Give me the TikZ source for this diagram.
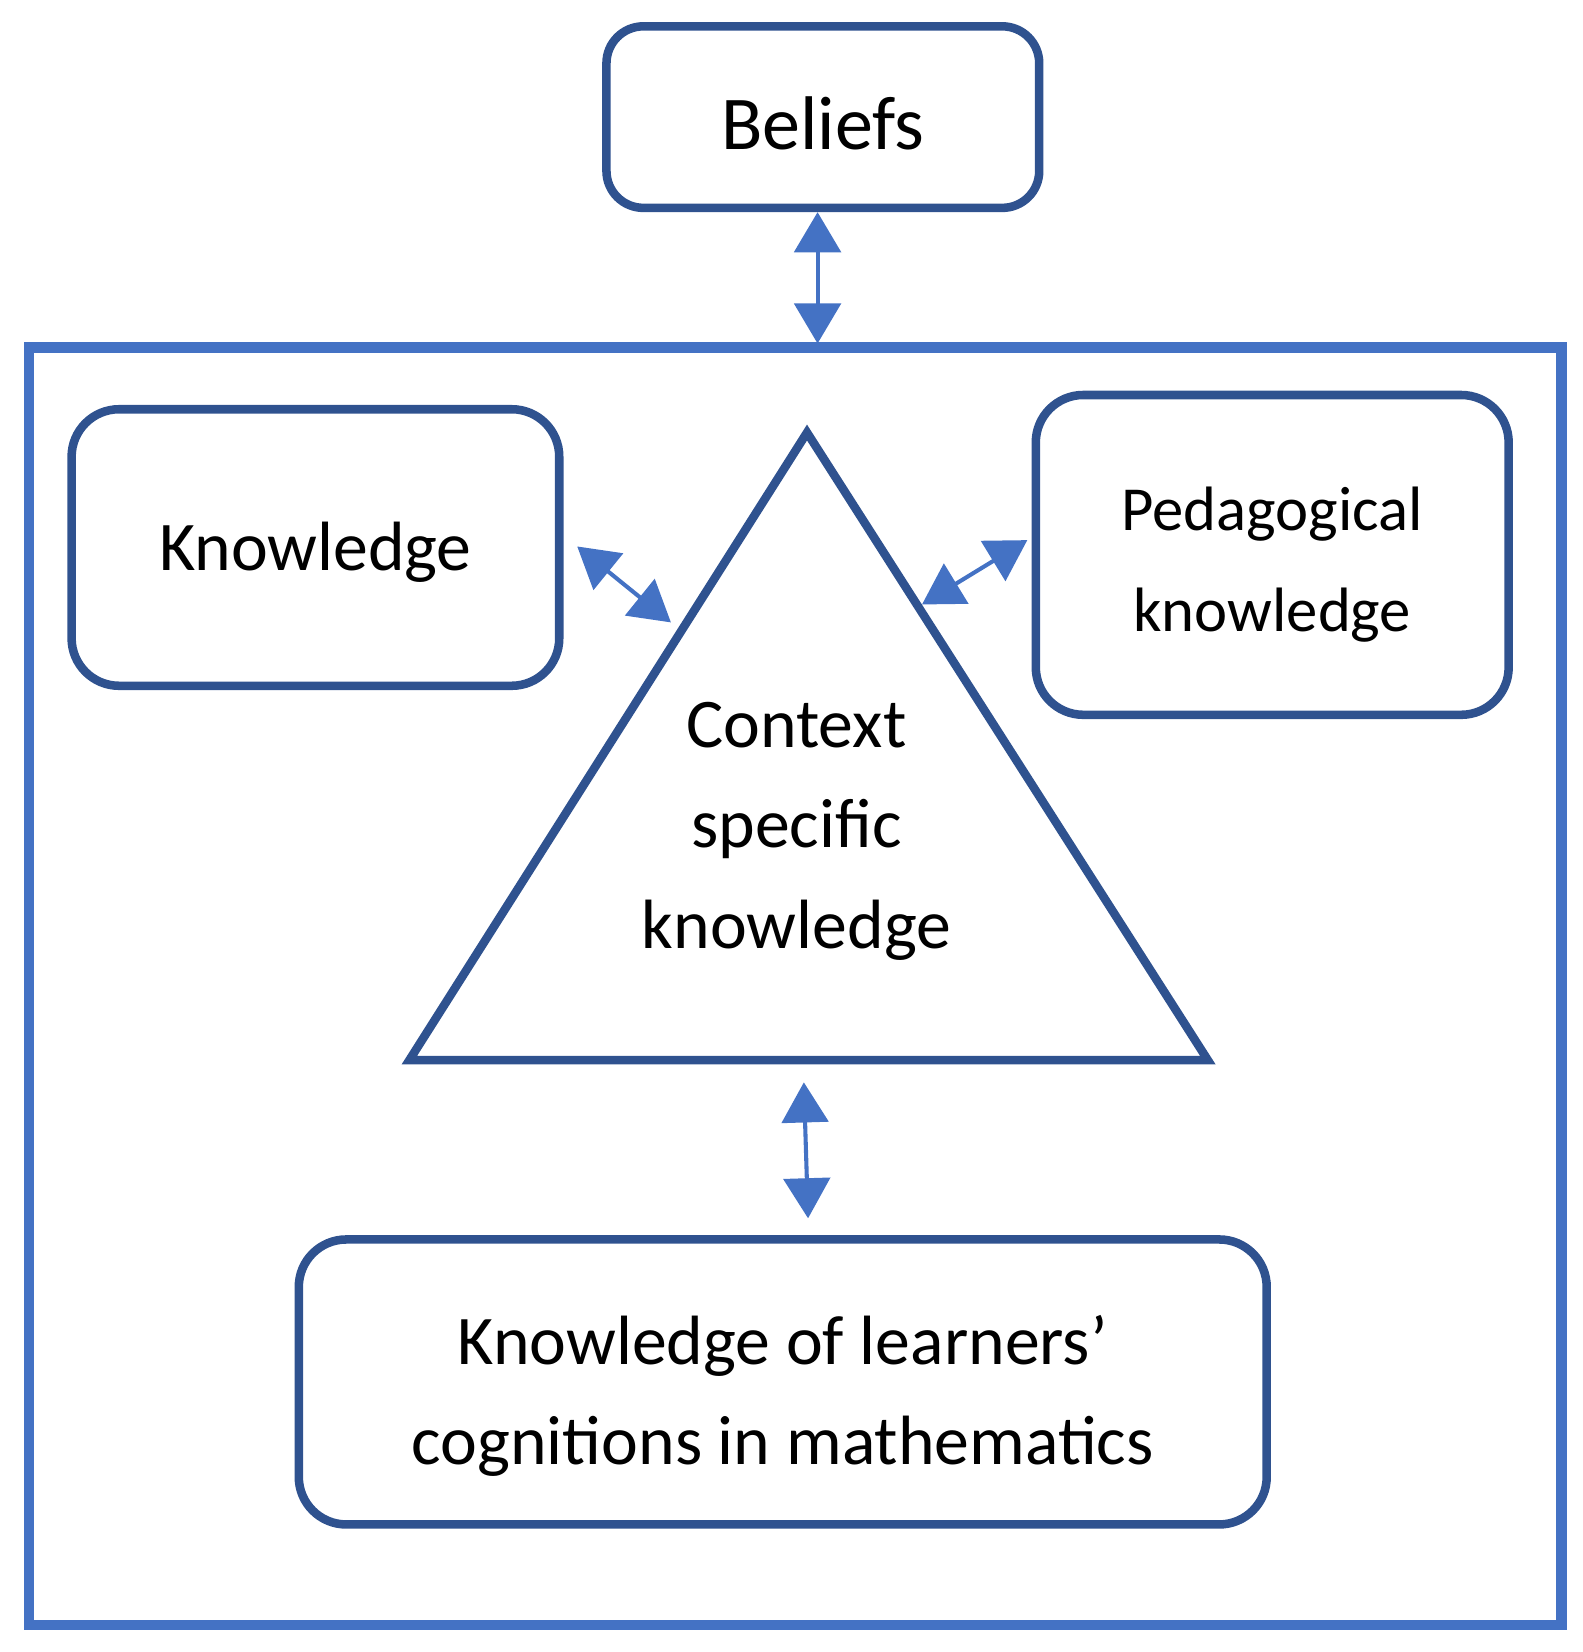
\documentclass[tikz,border=0pt]{standalone}
\usepackage{fontspec}
\setmainfont{Carlito}
\usetikzlibrary{arrows.meta}

\definecolor{boxblue}{HTML}{2F528F}
\definecolor{arrowblue}{HTML}{4472C4}

\newcommand{\downby}[2]{\raisebox{-#1}[\height][\depth]{#2}}

\tikzset{
  rbox/.style={draw=boxblue,line width=2.3pt,rounded corners=0.45cm,align=center,
               font=\fontsize{18.8}{27}\selectfont},
  dblarrow/.style={{Triangle[length=0.38cm,width=0.44cm]}-{Triangle[length=0.38cm,width=0.44cm]},
               draw=arrowblue,fill=arrowblue,line width=1.1pt},
}

\begin{document}
\begin{tikzpicture}[x=0.01cm,y=-0.01cm]
        \useasboundingbox (0,0) rectangle (1500,1566);
        \node (Frame)       at (754,935)  [draw=arrowblue,line width=2.85pt,minimum width=14.52cm,minimum height=12.10cm] {};
        \node (Beliefs)     at (780,111)  [rbox,rounded corners=0.35cm,minimum width=4.10cm,minimum height=1.72cm,font=\fontsize{20.5}{27}\selectfont] {\downby{1.7pt}{Beliefs}};
        \node (Knowledge)   at (299,519)  [rbox,minimum width=4.62cm,minimum height=2.62cm] {\downby{1.4pt}{Knowledge}};
        \node (Pedagogical) at (1206,526) [rbox,minimum width=4.48cm,minimum height=3.03cm,font=\fontsize{16.9}{27}\selectfont]
              {\downby{2.6pt}{Pedagogical}\\\downby{2.6pt}{knowledge}};
        \node (Learners)    at (742,1310) [rbox,minimum width=9.17cm,minimum height=2.70cm]
              {\downby{3.7pt}{Knowledge of learners’}\\\downby{3.7pt}{cognitions in mathematics}};

        % triangle in the middle
        \coordinate (Tapex)  at (765,410);
        \coordinate (Tleft)  at (388,1005);
        \coordinate (Tright) at (1145,1005);
        \draw[draw=boxblue,line width=2.3pt] (Tapex) -- (Tright) -- (Tleft) -- cycle;
        \node (Context) at (755,788) [align=center,font=\fontsize{18.8}{27}\selectfont] {Context\\specific\\knowledge};

        \coordinate (Kside) at (636,590);
        \coordinate (Pside) at (874,573);
        \coordinate (Tbase) at (762,1026);

        \draw[dblarrow] ([shift={(-5,0)}]Beliefs.south) -- ([shift={(21,1)}]Frame.north);
        \draw[dblarrow] ([shift={(13,-1)}]Knowledge.east) -- (Kside);
        \draw[dblarrow] (Pside) -- ([shift={(-4,-14)}]Pedagogical.west);
        \draw[dblarrow] (Tbase) -- ([shift={(24,-16)}]Learners.north);
    \end{tikzpicture}
\end{document}
